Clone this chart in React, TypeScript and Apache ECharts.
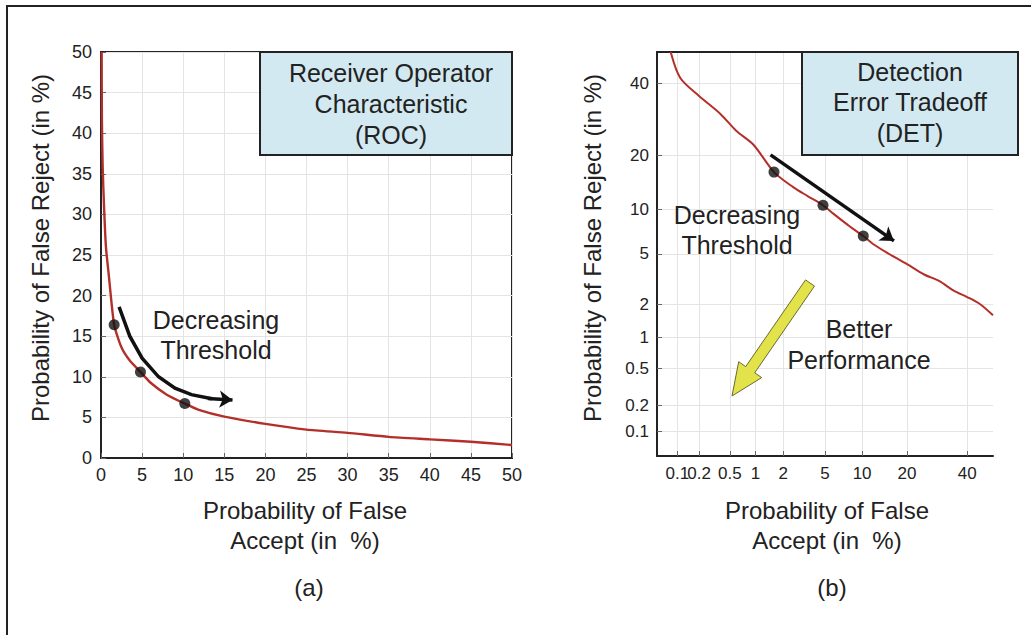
import React, { useEffect, useRef } from "react";
import * as echarts from "echarts";

// ---- data (percent) ----
const falseAccept = [0.08, 0.11, 0.2, 0.38, 0.6, 0.95, 1.6, 2.5, 3.5, 4.8, 6, 8, 10.2, 12, 15, 20, 25, 30, 35, 40, 45, 50];
const falseReject = [50, 41.6, 36, 30.7, 26, 22.5, 16.4, 13.6, 12, 10.6, 9.3, 7.8, 6.7, 5.9, 5.1, 4.2, 3.5, 3.1, 2.6, 2.3, 2.0, 1.6];
const thresholdFA = [1.6, 4.8, 10.2];
const thresholdFR = [16.4, 10.6, 6.7];
const rocArrowFA = [2.2, 3.5, 5, 7, 9, 11, 13.5];
const rocArrowFR = [18.6, 15, 12.3, 10, 8.6, 7.8, 7.3];
const rocArrowHeadFA = [13, 16];
const rocArrowHeadFR = [7.33, 7.15];
const detArrowFA = [1.47, 16.6];
const detArrowFR = [20.1, 6.2];
const detTicksA = [0.1, 0.5, 2, 10, 40];
const detTicksB = [0.2, 1, 5, 20];
const detTicks = [0.1, 0.2, 0.5, 1, 2, 5, 10, 20, 40];
const detTickLabels = ["0.1", "0.2", "0.5", "1", "2", "5", "10", "20", "40"];

const FONT = '"Liberation Sans", Arial, Helvetica, sans-serif';
const TXT = "#222";

// inverse normal CDF (Acklam) for the DET normal-deviate scale
function probit(p: number): number {
  const a = [-3.969683028665376e1, 2.209460984245205e2, -2.759285104469687e2, 1.38357751867269e2, -3.066479806614716e1, 2.506628277459239];
  const b = [-5.447609879822406e1, 1.615858368580409e2, -1.556989798598866e2, 6.680131188771972e1, -1.328068155288572e1];
  const c = [-7.784894002430293e-3, -3.223964580411365e-1, -2.400758277161838, -2.549732539343734, 4.374664141464968, 2.938163982698783];
  const d = [7.784695709041462e-3, 3.224671290700398e-1, 2.445134137142996, 3.754408661907416];
  const pl = 0.02425;
  if (p < pl) {
    const q = Math.sqrt(-2 * Math.log(p));
    return (((((c[0] * q + c[1]) * q + c[2]) * q + c[3]) * q + c[4]) * q + c[5]) / ((((d[0] * q + d[1]) * q + d[2]) * q + d[3]) * q + 1);
  }
  if (p <= 1 - pl) {
    const q = p - 0.5;
    const r = q * q;
    return ((((((a[0] * r + a[1]) * r + a[2]) * r + a[3]) * r + a[4]) * r + a[5]) * q) / (((((b[0] * r + b[1]) * r + b[2]) * r + b[3]) * r + b[4]) * r + 1);
  }
  const q = Math.sqrt(-2 * Math.log(1 - p));
  return -(((((c[0] * q + c[1]) * q + c[2]) * q + c[3]) * q + c[4]) * q + c[5]) / ((((d[0] * q + d[1]) * q + d[2]) * q + d[3]) * q + 1);
}
const pz = (pct: number) => probit(pct / 100);

const detTickZ = detTicks.map(pz);
const detLabel = (v: number) => {
  let best = 0;
  detTickZ.forEach((z, i) => {
    if (Math.abs(z - v) < Math.abs(detTickZ[best] - v)) best = i;
  });
  return detTickLabels[best];
};

function txt(text: string, x: number, y: number, size: number, extra: any = {}) {
  return {
    type: "text",
    z: 20,
    x,
    y,
    ...extra,
    style: { text, x: 0, y: 0, fill: TXT, font: `${size}px ${FONT}`, align: "center", verticalAlign: "middle" },
  };
}

export default function App() {
  const ref = useRef<HTMLDivElement>(null);
  useEffect(() => {
    if (!ref.current) return;
    const chart = echarts.init(ref.current, null, { renderer: "svg" });

    const axisCommon = {
      axisLine: { show: true, onZero: false, lineStyle: { color: "#222", width: 2 } },
      axisTick: { show: true, inside: true, length: 5, lineStyle: { color: "#666" } },
      axisLabel: { color: TXT, fontSize: 18, fontFamily: FONT },
      splitLine: { show: true, lineStyle: { color: "#e4e4e4", width: 1 } },
    };

    const detXAxis = (vals: number[], showLine: boolean) => ({
      gridIndex: 1,
      type: "value",
      position: "bottom",
      min: -3.29,
      max: 0,
      ...axisCommon,
      axisLine: { ...axisCommon.axisLine, show: showLine },
      axisTick: { ...axisCommon.axisTick, customValues: vals.map(pz) },
      axisLabel: {
        ...axisCommon.axisLabel,
        fontSize: 17,
        margin: 9,
        interval: 0,
        hideOverlap: false,
        customValues: vals.map(pz),
        formatter: (v: number) => detLabel(v),
      },
    });

    const yellow = [
      [814.5, 286.1],
      [754.7, 372.8],
      [761.7, 377.6],
      [732, 396],
      [738.7, 361.7],
      [745.7, 366.6],
      [805.5, 279.9],
    ];

    const arrowStyle = { color: "#111", width: 3.5, opacity: 1, curveness: 0 };

    chart.setOption({
      animation: false,
      backgroundColor: "#fff",
      textStyle: { fontFamily: FONT },
      grid: [
        { left: 101, top: 52, width: 411, height: 406, show: true, borderColor: "#222", borderWidth: 2, backgroundColor: "#fff" },
        { left: 657, top: 52, width: 336, height: 404 },
      ],
      xAxis: [
        { gridIndex: 0, type: "value", min: 0, max: 50, interval: 5, ...axisCommon, axisLabel: { ...axisCommon.axisLabel, margin: 8 } },
        detXAxis(detTicksA, true),
        {
          gridIndex: 1,
          type: "value",
          position: "top",
          min: -3.29,
          max: 0,
          axisLine: { show: true, onZero: false, lineStyle: { color: "#222", width: 2 } },
          axisTick: { show: false },
          axisLabel: { show: false },
          splitLine: { show: false },
        },
        detXAxis(detTicksB, false),
      ],
      yAxis: [
        { gridIndex: 0, type: "value", min: 0, max: 50, interval: 5, ...axisCommon, axisLabel: { ...axisCommon.axisLabel, margin: 9 } },
        {
          gridIndex: 1,
          type: "value",
          min: -3.29,
          max: 0,
          ...axisCommon,
          axisTick: { ...axisCommon.axisTick, customValues: detTickZ },
          axisLabel: { ...axisCommon.axisLabel, fontSize: 17, margin: 8, interval: 0, hideOverlap: false, customValues: detTickZ, formatter: (v: number) => detLabel(v) },
        },
      ],
      series: [
        {
          type: "line",
          xAxisIndex: 0,
          yAxisIndex: 0,
          data: falseAccept.map((x, i) => [x, falseReject[i]]),
          showSymbol: false,
          smooth: 0.2,
          lineStyle: { color: "#b3302a", width: 2.4 },
          z: 3,
        },
        {
          type: "scatter",
          xAxisIndex: 0,
          yAxisIndex: 0,
          data: thresholdFA.map((x, i) => [x, thresholdFR[i]]),
          symbolSize: 11,
          itemStyle: { color: "#111" },
          z: 5,
        },
        {
          type: "lines",
          coordinateSystem: "cartesian2d",
          xAxisIndex: 0,
          yAxisIndex: 0,
          polyline: true,
          lineStyle: arrowStyle,
          data: [{ coords: rocArrowFA.map((x, i) => [x, rocArrowFR[i]]) }],
          z: 6,
        },
        {
          type: "lines",
          coordinateSystem: "cartesian2d",
          xAxisIndex: 0,
          yAxisIndex: 0,
          symbol: ["none", "arrow"],
          symbolSize: 13,
          lineStyle: arrowStyle,
          data: [{ coords: rocArrowHeadFA.map((x, i) => [x, rocArrowHeadFR[i]]) }],
          z: 6,
        },
        {
          type: "line",
          xAxisIndex: 1,
          yAxisIndex: 1,
          data: falseAccept.map((x, i) => [pz(x), pz(falseReject[i])]),
          showSymbol: false,
          smooth: 0.3,
          lineStyle: { color: "#b3302a", width: 2 },
          z: 3,
        },
        {
          type: "scatter",
          xAxisIndex: 1,
          yAxisIndex: 1,
          data: thresholdFA.map((x, i) => [pz(x), pz(thresholdFR[i])]),
          symbolSize: 11,
          itemStyle: { color: "#111" },
          z: 5,
        },
        {
          type: "lines",
          coordinateSystem: "cartesian2d",
          xAxisIndex: 1,
          yAxisIndex: 1,
          symbol: ["none", "arrow"],
          symbolSize: 13,
          lineStyle: arrowStyle,
          data: [{ coords: detArrowFA.map((x, i) => [pz(x), pz(detArrowFR[i])]) }],
          z: 6,
        },
      ],
      graphic: [
        { type: "rect", z: 0, silent: true, shape: { x: 7, y: 6, width: 1100, height: 700 }, style: { fill: "none", stroke: "#222", lineWidth: 2 } },
        { type: "rect", z: 10, shape: { x: 260, y: 52, width: 252, height: 103 }, style: { fill: "#d3e9f1", stroke: "#222", lineWidth: 2 } },
        { type: "rect", z: 10, shape: { x: 802, y: 52, width: 216, height: 103 }, style: { fill: "#d3e9f1", stroke: "#222", lineWidth: 2 } },
        { type: "polygon", z: 10, shape: { points: yellow }, style: { fill: "#e2e24a", stroke: "#6a6a30", lineWidth: 1 } },
        txt("Receiver Operator", 391, 73, 25),
        txt("Characteristic", 391, 104, 25),
        txt("(ROC)", 391, 135, 25),
        txt("Detection", 910, 72, 25),
        txt("Error Tradeoff", 910, 102, 25),
        txt("(DET)", 910, 133, 25),
        txt("Decreasing", 216, 320, 25),
        txt("Threshold", 216, 350, 25),
        txt("Decreasing", 737, 215, 25),
        txt("Threshold", 737, 245, 25),
        txt("Better", 859, 329, 25),
        txt("Performance", 859, 360, 25),
        txt("Probability of False", 305, 510, 24),
        txt("Accept (in  %)", 305, 540, 24),
        txt("(a)", 309, 587, 24),
        txt("Probability of False", 827, 510, 24),
        txt("Accept (in  %)", 827, 540, 24),
        txt("(b)", 832, 587, 24),
        txt("Probability of False Reject (in %)", 40, 248, 24, { rotation: Math.PI / 2 }),
        txt("Probability of False Reject (in %)", 592, 248, 24, { rotation: Math.PI / 2 }),
      ],
    });
    return () => chart.dispose();
  }, []);
  return <div ref={ref} style={{ position: "absolute", left: 0, top: 0, width: 1031, height: 635, background: "#fff" }} />;
}
